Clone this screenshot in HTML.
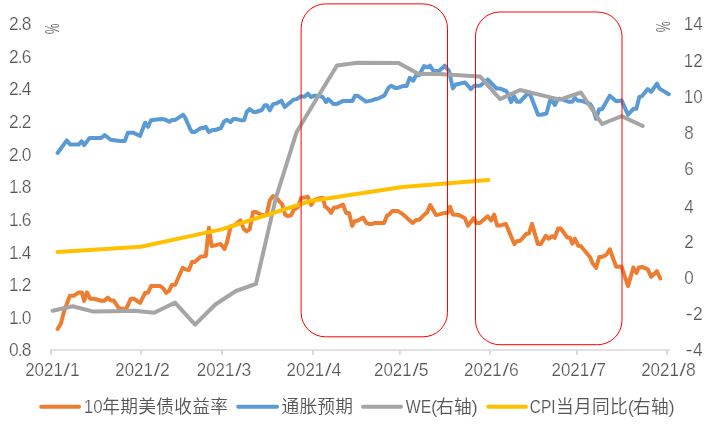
<!DOCTYPE html>
<html lang="zh-CN">
<head>
<meta charset="utf-8">
<title>10年期美债收益率 / 通胀预期 / WE / CPI当月同比</title>
<style>
html,body{margin:0;padding:0;background:#fff;}
body{width:713px;height:425px;overflow:hidden;}
svg{display:block;}
text{font-family:'Liberation Sans','Noto Sans CJK SC',sans-serif;font-size:17.9px;fill:#565656;font-weight:400;}
.l{stroke:#fff;stroke-width:0.22px;paint-order:fill stroke;}
.p{stroke:#fff;stroke-width:0.15px;paint-order:fill stroke;}
.c{font-weight:350;font-size:17.7px;letter-spacing:0.3px;stroke:none;}
.s{fill:none;stroke-width:4.0;stroke-linejoin:round;stroke-linecap:round;}
.r{fill:none;stroke:#ff0000;stroke-width:1;}
</style>
</head>
<body>
<svg width="713" height="425" viewBox="0 0 713 425">
<rect x="0" y="0" width="713" height="425" fill="#ffffff"/>
<g stroke="#d9d9d9" stroke-width="1.7" fill="none">
<line x1="50" y1="350" x2="670" y2="350"/>
<line x1="51" y1="350" x2="51" y2="354.9" stroke-width="1.9"/>
<line x1="141.1" y1="350" x2="141.1" y2="354.9" stroke-width="1.9"/>
<line x1="222.0" y1="350" x2="222.0" y2="354.9" stroke-width="1.9"/>
<line x1="313.0" y1="350" x2="313.0" y2="354.9" stroke-width="1.9"/>
<line x1="399.8" y1="350" x2="399.8" y2="354.9" stroke-width="1.9"/>
<line x1="489.9" y1="350" x2="489.9" y2="354.9" stroke-width="1.9"/>
<line x1="576.9" y1="350" x2="576.9" y2="354.9" stroke-width="1.9"/>
<line x1="667.0" y1="350" x2="667.0" y2="354.9" stroke-width="1.9"/>
</g>
<g class="l" style="letter-spacing:-0.9px">
<text transform="translate(9,29.95) scale(0.97,1)">2.8</text>
<text transform="translate(9,62.60) scale(0.97,1)">2.6</text>
<text transform="translate(9,95.25) scale(0.97,1)">2.4</text>
<text transform="translate(9,127.90) scale(0.97,1)">2.2</text>
<text transform="translate(9,160.55) scale(0.97,1)">2.0</text>
<text transform="translate(9,193.20) scale(0.97,1)">1.8</text>
<text transform="translate(9,225.85) scale(0.97,1)">1.6</text>
<text transform="translate(9,258.50) scale(0.97,1)">1.4</text>
<text transform="translate(9,291.15) scale(0.97,1)">1.2</text>
<text transform="translate(9,323.80) scale(0.97,1)">1.0</text>
<text transform="translate(9,356.45) scale(0.97,1)">0.8</text>
</g>
<text class="l" transform="translate(683.8,29.95) scale(0.95,1)">14</text>
<text class="l" transform="translate(683.8,67.03) scale(0.95,1)">12</text>
<text class="l" transform="translate(683.8,102.81) scale(0.95,1)">10</text>
<text class="l" transform="translate(684.3,138.88) scale(0.95,1)">8</text>
<text class="l" transform="translate(684.3,175.16) scale(0.95,1)">6</text>
<text class="l" transform="translate(684.3,212.54) scale(0.95,1)">4</text>
<text class="l" transform="translate(684.3,247.92) scale(0.95,1)">2</text>
<text class="l" transform="translate(684.3,284.19) scale(0.95,1)">0</text>
<text class="l" y="320.17"><tspan x="685.40" textLength="7.16" lengthAdjust="spacingAndGlyphs">-</tspan><tspan x="693.00" textLength="9.66" lengthAdjust="spacingAndGlyphs">2</tspan></text>
<text class="l" y="356.45"><tspan x="685.40" textLength="7.16" lengthAdjust="spacingAndGlyphs">-</tspan><tspan x="693.00" textLength="9.66" lengthAdjust="spacingAndGlyphs">4</tspan></text>
<text class="l" y="376.30"><tspan x="25.20" textLength="37.63" lengthAdjust="spacingAndGlyphs">2021</tspan><tspan x="63.60" textLength="6.57" lengthAdjust="spacingAndGlyphs">/</tspan><tspan x="70.00" textLength="9.76" lengthAdjust="spacingAndGlyphs">1</tspan></text>
<text class="l" y="376.30"><tspan x="115.30" textLength="37.63" lengthAdjust="spacingAndGlyphs">2021</tspan><tspan x="153.70" textLength="6.57" lengthAdjust="spacingAndGlyphs">/</tspan><tspan x="160.10" textLength="9.76" lengthAdjust="spacingAndGlyphs">2</tspan></text>
<text class="l" y="376.30"><tspan x="196.80" textLength="37.63" lengthAdjust="spacingAndGlyphs">2021</tspan><tspan x="235.20" textLength="6.57" lengthAdjust="spacingAndGlyphs">/</tspan><tspan x="241.60" textLength="9.76" lengthAdjust="spacingAndGlyphs">3</tspan></text>
<text class="l" y="376.30"><tspan x="286.60" textLength="37.63" lengthAdjust="spacingAndGlyphs">2021</tspan><tspan x="325.00" textLength="6.57" lengthAdjust="spacingAndGlyphs">/</tspan><tspan x="331.40" textLength="9.76" lengthAdjust="spacingAndGlyphs">4</tspan></text>
<text class="l" y="376.30"><tspan x="374.00" textLength="37.63" lengthAdjust="spacingAndGlyphs">2021</tspan><tspan x="412.40" textLength="6.57" lengthAdjust="spacingAndGlyphs">/</tspan><tspan x="418.80" textLength="9.76" lengthAdjust="spacingAndGlyphs">5</tspan></text>
<text class="l" y="376.30"><tspan x="464.10" textLength="37.63" lengthAdjust="spacingAndGlyphs">2021</tspan><tspan x="502.50" textLength="6.57" lengthAdjust="spacingAndGlyphs">/</tspan><tspan x="508.90" textLength="9.76" lengthAdjust="spacingAndGlyphs">6</tspan></text>
<text class="l" y="376.30"><tspan x="551.50" textLength="37.63" lengthAdjust="spacingAndGlyphs">2021</tspan><tspan x="589.90" textLength="6.57" lengthAdjust="spacingAndGlyphs">/</tspan><tspan x="596.30" textLength="9.76" lengthAdjust="spacingAndGlyphs">7</tspan></text>
<text class="l" y="376.30"><tspan x="641.20" textLength="37.63" lengthAdjust="spacingAndGlyphs">2021</tspan><tspan x="679.60" textLength="6.57" lengthAdjust="spacingAndGlyphs">/</tspan><tspan x="686.00" textLength="9.76" lengthAdjust="spacingAndGlyphs">8</tspan></text>
<text class="p" transform="translate(51.9,28.85) rotate(90) scale(0.67,1.08)" text-anchor="middle" y="6.45">%</text>
<text class="p" transform="translate(663.1,26.7) rotate(90) scale(0.67,1.08)" text-anchor="middle" y="6.45">%</text>
<polyline class="s" stroke="#ed7d31" points="57.6,329.0 60.9,323.4 64.3,310.5 69.9,295.8 73.6,295.8 79.0,292.4 82.0,292.4 84.2,300.9 87.0,292.4 90.1,298.7 93.8,298.7 101.3,300.7 104.7,300.7 107.7,297.5 110.9,300.4 113.6,300.4 119.0,308.4 121.9,308.4 125.8,309.6 130.8,298.7 133.7,298.7 140.1,302.9 145.1,292.8 148.0,292.8 151.0,286.0 160.3,286.0 163.1,288.2 166.2,292.8 169.3,290.6 171.8,285.0 175.2,284.7 182.7,267.8 186.1,269.5 189.0,270.0 192.0,261.9 194.8,261.9 200.6,256.7 205.8,256.0 208.9,227.8 211.6,246.0 214.4,245.6 220.6,243.9 224.5,249.0 227.0,242.2 230.7,226.2 234.6,225.4 240.5,220.4 243.8,229.1 246.9,231.3 249.7,229.1 253.1,211.9 255.9,211.9 261.5,215.0 266.6,215.0 269.9,200.2 272.9,196.1 275.8,197.4 282.2,204.4 285.1,214.5 287.6,216.1 291.0,215.3 294.0,209.4 297.7,207.4 301.1,198.1 304.4,197.6 307.8,196.8 311.2,204.9 314.3,200.0 319.3,198.3 322.7,197.8 325.2,206.7 327.7,208.4 331.1,212.9 334.0,207.4 337.0,207.4 342.9,204.5 346.2,212.9 349.1,212.9 352.1,225.9 354.7,221.3 358.0,220.5 363.1,217.6 366.4,223.0 369.0,223.9 372.3,223.9 374.9,223.0 384.1,223.0 387.0,215.5 389.2,214.6 392.2,210.9 397.9,210.9 402.6,214.1 412.7,223.0 416.1,220.0 419.5,219.7 423.4,215.5 427.1,212.4 430.2,205.0 436.0,215.1 438.6,214.6 444.5,212.9 447.8,212.9 450.0,206.7 452.9,214.6 458.8,214.9 464.7,218.0 468.0,225.6 473.9,218.0 476.4,223.0 479.8,223.0 487.7,216.3 491.1,220.5 494.1,214.6 497.2,225.6 500.0,225.6 505.9,223.9 514.3,244.1 516.8,241.2 520.2,240.7 526.1,234.0 529.0,233.6 532.0,223.9 537.9,244.1 540.7,244.1 545.8,235.8 548.8,238.7 552.2,236.1 554.7,237.8 558.1,228.6 560.9,228.6 567.3,237.5 569.9,237.8 572.4,243.7 574.9,238.7 578.3,245.9 580.8,245.9 590.1,257.2 592.6,263.4 596.0,267.8 599.3,256.9 601.9,256.9 606.1,255.0 609.8,249.3 616.2,266.8 621.6,266.7 628.0,286.1 633.4,267.5 636.4,272.9 638.8,267.4 641.8,267.0 647.7,269.1 651.1,276.8 657.0,271.2 660.3,278.5"/>
<polyline class="s" stroke="#5b9bd5" points="57.6,153.0 66.8,140.4 70.2,144.6 78.6,144.6 81.6,141.2 84.2,145.1 89.6,137.9 101.3,137.9 104.7,135.0 110.6,139.7 119.9,140.9 124.9,140.9 127.8,132.8 133.3,132.8 140.1,135.9 145.1,122.7 148.0,126.9 151.0,120.2 161.1,119.0 164.5,119.4 169.3,121.8 171.8,120.1 175.2,119.9 183.2,114.8 185.3,117.9 190.0,128.8 192.0,131.9 195.0,131.9 200.9,128.0 203.4,128.0 205.8,126.8 208.8,131.9 212.5,130.0 215.2,130.0 220.9,128.0 224.3,121.2 227.0,119.9 230.4,122.1 233.2,119.1 236.1,119.1 241.6,120.4 244.2,120.1 246.7,112.0 249.7,109.0 253.4,112.0 256.0,112.0 261.8,110.0 264.7,105.3 266.9,105.3 269.8,110.3 273.1,104.1 276.2,103.6 281.4,100.7 284.8,107.1 293.6,99.6 296.6,99.1 301.1,96.2 304.5,96.7 307.9,93.7 310.9,97.0 314.6,95.7 318.0,95.7 322.7,97.0 326.1,102.1 328.1,99.1 333.6,104.1 336.5,104.1 343.2,100.9 352.5,100.9 355.0,95.7 357.5,95.7 366.0,101.6 371.8,100.4 375.2,99.1 377.7,98.7 384.5,95.4 388.4,87.9 391.4,85.7 395.2,87.9 397.7,87.9 403.6,85.9 406.6,85.9 409.8,77.8 413.2,80.8 416.2,75.3 419.1,75.3 424.1,66.0 427.1,67.3 430.0,65.7 433.4,71.0 438.9,71.0 444.8,65.7 449.0,71.0 452.9,88.4 455.8,84.5 465.0,82.5 470.9,89.1 474.3,85.7 480.2,85.7 487.7,79.5 496.7,88.6 500.1,88.6 506.0,90.8 508.5,94.5 511.0,102.1 514.1,96.2 516.9,101.8 520.0,101.8 527.4,93.7 530.4,95.0 538.0,114.7 541.3,114.7 546.4,113.5 550.1,100.4 552.0,100.4 554.8,105.1 557.3,100.1 559.4,98.7 564.1,100.1 569.1,101.8 572.2,101.8 575.0,97.9 577.5,100.4 581.8,100.9 590.2,104.1 593.0,108.8 596.1,118.9 599.1,109.2 602.0,109.2 609.8,95.7 616.2,101.2 621.6,100.4 628.0,114.7 633.4,108.8 636.4,108.8 639.3,97.0 641.8,96.2 647.7,89.0 651.1,92.0 657.0,83.6 659.5,88.6 668.8,94.2"/>
<polyline class="s" stroke="#a5a5a5" points="52.6,310.7 72.7,306.2 93.4,311.6 113.5,311.2 134.2,310.8 154.2,312.8 175.0,302.6 195.1,324.7 215.3,304.5 235.9,291.0 256.0,283.8 275.7,198.6 296.5,132.3 316.8,98.5 337.0,65.5 357.5,62.8 398.5,62.9 418.7,74.1 438.9,74.1 480.2,76.6 500.1,99.1 520.0,90.0 559.9,99.6 580.9,92.5 602.0,124.0 621.6,116.1 642.7,126.0"/>
<polyline class="s" stroke="#ffc000" points="57.6,252.0 141.0,246.7 221.5,229.4 310.5,201.0 402.5,187.0 488.4,180.1"/>
<rect class="r" x="301.1" y="3.9" width="146.4" height="332.9" rx="24.4" ry="24.4"/>
<rect class="r" x="475.5" y="12.0" width="146.5" height="332.7" rx="24.4" ry="24.4"/>
<line x1="41.2" y1="406.8" x2="79.0" y2="406.8" stroke="#ed7d31" stroke-width="4" stroke-linecap="round"/>
<text class="l" y="413.00"><tspan x="83.80" textLength="18.92" lengthAdjust="spacingAndGlyphs">10</tspan><tspan x="102.30" y="413.30" class="c">年期美债收益率</tspan></text>
<line x1="238.2" y1="406.8" x2="277.0" y2="406.8" stroke="#5b9bd5" stroke-width="4" stroke-linecap="round"/>
<text class="c" y="413.30"><tspan x="281.40" class="c">通胀预期</tspan></text>
<line x1="363.0" y1="406.8" x2="401.0" y2="406.8" stroke="#a5a5a5" stroke-width="4" stroke-linecap="round"/>
<text class="l" y="413.00"><tspan x="405.70" y="413.20" class="p" font-size="18.79" textLength="25.52" lengthAdjust="spacingAndGlyphs">WE</tspan><tspan x="431.10" y="412.70" class="l" font-size="18.62" textLength="6.26" lengthAdjust="spacingAndGlyphs">(</tspan><tspan x="436.10" y="413.30" class="c">右轴</tspan><tspan x="471.60" y="412.70" class="l" font-size="18.62" textLength="6.26" lengthAdjust="spacingAndGlyphs">)</tspan></text>
<line x1="488.2" y1="406.8" x2="526.0" y2="406.8" stroke="#ffc000" stroke-width="4" stroke-linecap="round"/>
<text class="l" y="413.00"><tspan x="529.80" y="413.20" class="p" font-size="18.79" textLength="25.66" lengthAdjust="spacingAndGlyphs">CPI</tspan><tspan x="556.00" y="413.30" class="c">当月同比</tspan><tspan x="627.70" y="412.70" class="l" font-size="18.62" textLength="6.26" lengthAdjust="spacingAndGlyphs">(</tspan><tspan x="632.90" y="413.30" class="c">右轴</tspan><tspan x="668.40" y="412.70" class="l" font-size="18.62" textLength="6.26" lengthAdjust="spacingAndGlyphs">)</tspan></text>
</svg>
</body>
</html>
